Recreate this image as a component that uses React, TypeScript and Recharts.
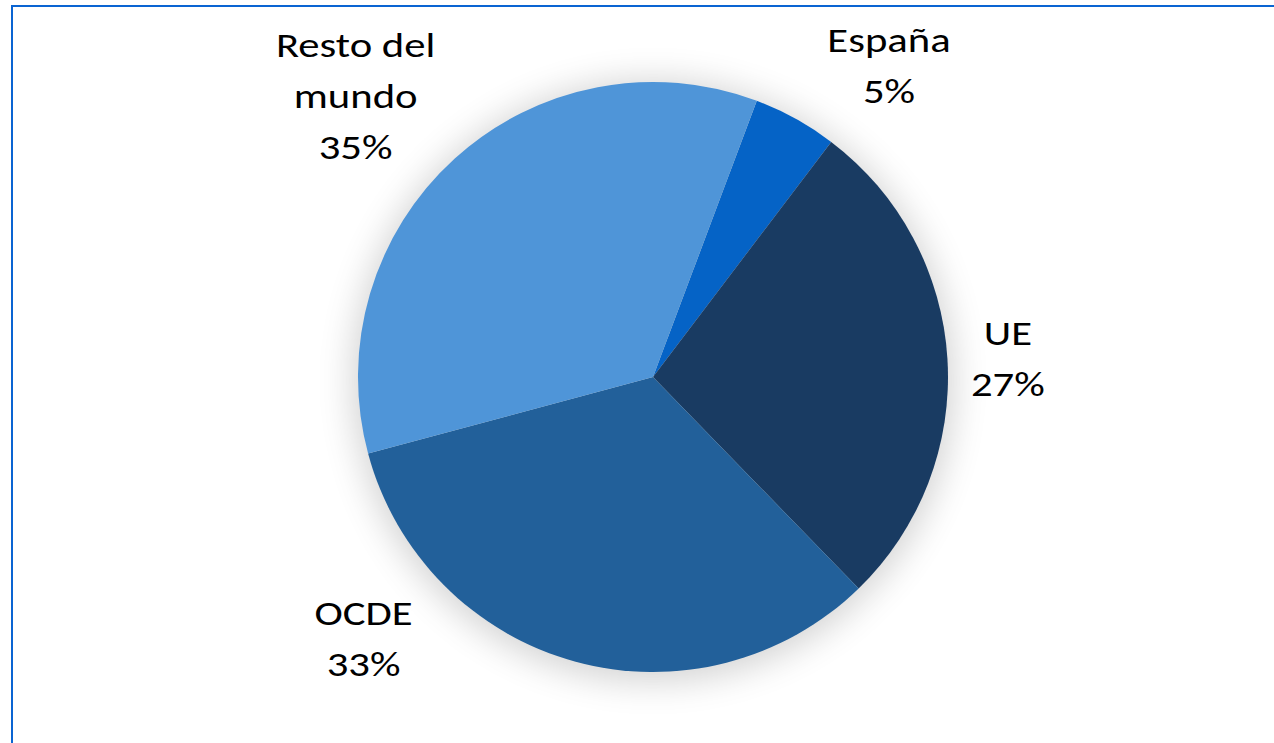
import { Cell, Pie, PieChart } from 'recharts';

const regions = ['España', 'UE', 'OCDE', 'Resto del mundo'];
const shares = [4.6, 27.4, 33.1, 34.9];
const labelLines = [['España'], ['UE'], ['OCDE'], ['Resto del', 'mundo']];

const colors = ['#0563C6', '#193B62', '#22609A', '#4F95D8'];
// where each label's first baseline sits, relative to the centre, in outer radii
const labelPos = [
  [0.8, -1.102],
  [1.203, -0.108],
  [-0.981, 0.841],
  [-1.008, -1.085],
];

const rows = regions.map((name, i) => ({ name, value: shares[i], lines: labelLines[i] }));

const FONT = 'Carlito, Calibri, "Open Sans", sans-serif';

function renderLabel(props: any) {
  const { cx, cy, outerRadius, index, percent } = props;
  const [fx, fy] = labelPos[index];
  const x = cx + fx * outerRadius;
  const y = cy + fy * outerRadius;
  const lines = [...labelLines[index], `${Math.round(percent * 100)}%`];
  // the source text is drawn a little wide, so stretch it horizontally
  return (
    <text
      x={x}
      y={y}
      textAnchor="middle"
      fontSize={35}
      fontFamily={FONT}
      fill="#000"
      transform={`translate(${x} 0) scale(1.22 1) translate(${-x} 0)`}
    >
      {lines.map((l, i) => (
        <tspan key={i} x={x} y={y + i * 51}>
          {l}
        </tspan>
      ))}
    </text>
  );
}

export default function App() {
  return (
    <div
      style={{
        position: 'absolute',
        left: 0,
        top: 0,
        width: 1274,
        height: 743,
        overflow: 'hidden',
        background: '#fff',
      }}
    >
      <style>{`.pie-shadow { filter: blur(13px); opacity: 0.42; }`}</style>
      <div
        style={{
          position: 'absolute',
          left: 11,
          top: 5,
          width: 1320,
          height: 800,
          border: '2px solid #0A64D2',
        }}
      />
      <div style={{ position: 'absolute', left: 0, top: 0 }}>
        <PieChart width={1274} height={743} margin={{ top: 0, right: 0, bottom: 0, left: 0 }}>
          <Pie
            className="pie-shadow"
            data={rows}
            dataKey="value"
            cx={653}
            cy={381}
            outerRadius={300}
            startAngle={69.4}
            endAngle={-290.6}
            fill="#000"
            stroke="#000"
            label={false}
            labelLine={false}
            isAnimationActive={false}
          />
          <Pie
            data={rows}
            dataKey="value"
            nameKey="name"
            cx={653}
            cy={377}
            outerRadius={295}
            startAngle={69.4}
            endAngle={-290.6}
            stroke="none"
            label={renderLabel}
            labelLine={false}
            isAnimationActive={false}
          >
            {rows.map((r, i) => (
              <Cell key={r.name} fill={colors[i]} />
            ))}
          </Pie>
        </PieChart>
      </div>
    </div>
  );
}
